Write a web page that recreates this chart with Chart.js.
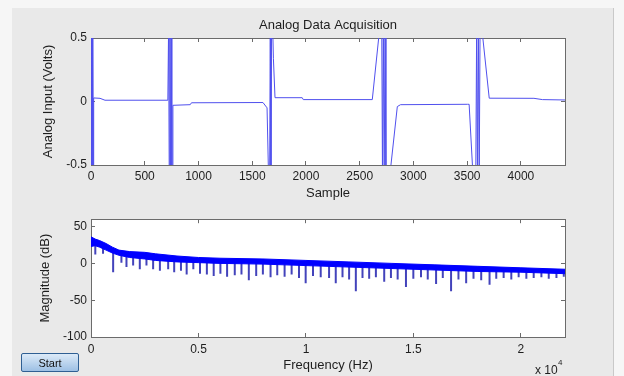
<!DOCTYPE html>
<html lang="en">
<head>
<meta charset="utf-8">
<title>Analog Data Acquisition</title>
<script src="https://cdn.jsdelivr.net/npm/chart.js@4.4.1/dist/chart.umd.min.js"></script>
<style>
    html, body { margin: 0; padding: 0; }
    body { width: 624px; height: 376px; position: relative; overflow: hidden; background: #f6f6f6;
           font-family: "Liberation Sans", Arial, sans-serif; }
    .panel { position: absolute; left: 12px; top: 8px; width: 601px; height: 368px; background: #e9e9e9;
             border-right: 1px solid #c9c9c9; }
    canvas { position: absolute; left: 0; }
    #graficoTiempo { top: 0; width: 624px; height: 204px; }
    #graficoEspectro { top: 204px; width: 624px; height: 172px; }
    .boton { position: absolute; left: 21px; top: 353px; width: 58px; height: 19px; box-sizing: border-box;
             -webkit-appearance: none; appearance: none; padding: 0; border: 1px solid #2f5f93; border-radius: 2px;
             background: linear-gradient(#dceaf8, #9dc0e4); font: 11px "Liberation Sans", Arial, sans-serif; color: #111; }
    .escala { position: absolute; left: 535px; top: 363px; font-size: 12px; line-height: 14px; color: #1e1e1e; white-space: nowrap; }
    .escala sup { position: absolute; left: 23px; top: -4px; font-size: 8px; line-height: 8px; }
</style>
</head>
<body>
<div class="panel"></div>
<canvas id="graficoTiempo" width="624" height="204"></canvas>
<canvas id="graficoEspectro" width="624" height="172"></canvas>
<button class="boton">Start</button>
<div class="escala">x 10<sup>4</sup></div>
<script>
(function() {
    'use strict';

    // Señal adquirida (muestra, voltios)
    var muestras = [0, 3, 6, 9, 12, 15, 18, 21, 25, 84, 130,
                    715, 722, 728, 734, 740, 746, 752, 758, 762, 923, 935, 1600,
                    1638, 1650, 1662, 1668, 1674, 1680, 1690, 1697, 1712, 1965, 1975,
                    2617, 2679, 2705, 2712, 2720, 2728, 2736, 2744, 2788, 2850, 2880,
                    3503, 3518, 3550, 3580, 3588, 3596, 3604, 3612, 3620, 3643, 3705, 4121, 4200, 4410];
    var voltios = [0.6, -0.6, 0.6, -0.6, 0.6, -0.6, 0.6, -0.6, 0.028, 0.025, 0.01,
                   0.01, 0.6, -0.6, 0.6, -0.6, 0.6, -0.6, -0.6, -0.03, -0.025, -0.01, -0.008,
                   -0.05, -0.52, -0.6, 0.6, -0.6, 0.6, 0.6, 0.34, 0.03, 0.03, 0.015,
                   0.015, 0.52, 0.6, -0.6, 0.6, -0.6, 0.6, -0.6, -0.52, -0.04, -0.025,
                   -0.022, -0.022, -0.52, -0.6, 0.6, -0.6, 0.6, -0.6, 0.6, 0.52, 0.026, 0.025, 0.015, 0.012];

    // Espectro: borde superior e inferior de la banda (Hz, dB)
    var frecuencias = [0, 200, 400, 700, 1000, 1300, 1800, 2500, 3000, 4000, 5000, 6000, 8000, 10000,
                       12000, 14000, 16000, 18000, 20000, 22050];
    var magnitudSup = [36, 33, 31, 27, 22, 18, 16, 15, 13, 10, 8, 7, 6, 4, 2, 0, -2, -4, -6, -8];
    var magnitudInf = [23, 24, 22, 18, 14, 11, 8, 6, 4, 2, 1, 0, -1, -3, -5, -7, -9, -11, -12, -14];

    // Valles del espectro (Hz, dB arriba, dB abajo)
    var valleFrec = [200, 560, 1030, 1415, 1650, 1960, 2270, 2580, 2890, 3205, 3590, 3870, 4185, 4450,
                     4760, 5070, 5390, 5708, 6020, 6331, 6688, 7000, 7342, 7685, 7996, 8353, 8664, 9006,
                     9333, 9675, 9986, 10328, 10686, 11075, 11386, 11700, 12007, 12320, 12630, 12940,
                     13253, 13640, 13953, 14265, 14652, 14995, 15352, 15665, 16053, 16365, 16750, 17094,
                     17452, 17794, 18152, 18540, 18852, 19196, 19552, 19894, 20252, 20594, 20952, 21294,
                     21652, 21994];
    var valleAlto = [28, 24, 18, 13, 12, 11, 10, 10, 9, 8, 8, 7, 7, 6, 6, 5, 5, 4, 4, 4, 4, 4, 4, 3, 3,
                     3, 3, 2, 2, 2, 1, 1, 1, 0, 0, -1, -1, -1, -2, -2, -2, -3, -3, -3, -4, -4, -5, -5, -5,
                     -6, -6, -6, -7, -7, -8, -8, -8, -9, -9, -9, -10, -10, -10, -11, -11, -11];
    var valleBajo = [12, 13, -12, 1, -5, -3, -8, -3, -8, -10, -8, -12, -10, -15, -8, -14, -15, -17, -14,
                     -18, -16, -15, -23, -17, -15, -19, -16, -18, -15, -20, -27, -17, -19, -20, -27, -19,
                     -22, -38, -20, -21, -19, -25, -20, -22, -32, -21, -19, -22, -28, -20, -38, -22, -27,
                     -21, -23, -29, -21, -20, -22, -19, -21, -20, -19, -21, -20, -18];

    // Marcas de los ejes
    var marcasMuestra = [0, 500, 1000, 1500, 2000, 2500, 3000, 3500, 4000];
    var marcasVoltios = [-0.5, 0, 0.5];
    var marcasFrec = [0, 5000, 10000, 15000, 20000];
    var etiquetasFrec = ['0', '0.5', '1', '1.5', '2'];
    var marcasDb = [-100, -50, 0, 50];

    Chart.defaults.font.family = "'Liberation Sans', Arial, sans-serif";
    Chart.defaults.color = '#1e1e1e';
    var colorEje = '#6b6b6b';

    // Fondo blanco solo dentro del área de trazado
    var fondoBlanco = {
        id: 'fondoBlanco',
        beforeDraw: function(chart) {
            var a = chart.chartArea;
            var ctx = chart.ctx;
            ctx.save();
            ctx.fillStyle = '#ffffff';
            ctx.fillRect(a.left, a.top, a.right - a.left, a.bottom - a.top);
            ctx.restore();
        }
    };

    function fijarMarcas(marcas) {
        return function(s) {
            s.ticks = marcas.map(function(v) { return { value: v }; });
        };
    }

    function ejeX(pos, min, max, marcas, alto, titulo, relleno, formato) {
        return {
            type: 'linear', position: pos, min: min, max: max,
            afterBuildTicks: fijarMarcas(marcas),
            afterFit: function(s) { s.height = alto; },
            border: { color: colorEje },
            grid: { drawOnChartArea: false, tickLength: -4, color: colorEje },
            ticks: { display: !!titulo, autoSkip: false, maxRotation: 0, padding: relleno || 0,
                     font: { size: 12 }, callback: formato },
            title: { display: !!titulo, text: titulo || '', font: { size: 13 }, padding: { top: 0, bottom: 3 } }
        };
    }

    function ejeY(pos, min, max, marcas, ancho, titulo, margen) {
        return {
            type: 'linear', position: pos, min: min, max: max,
            afterBuildTicks: fijarMarcas(marcas),
            afterFit: function(s) { s.width = ancho; },
            border: { color: colorEje },
            grid: { drawOnChartArea: false, tickLength: -4, color: colorEje },
            ticks: { display: !!titulo, autoSkip: false, padding: 8, font: { size: 12 } },
            title: { display: !!titulo, text: titulo || '', font: { size: 13 }, padding: { top: margen || 0, bottom: 0 } }
        };
    }

    var sinLeyenda = { legend: { display: false }, tooltip: { enabled: false } };

    // Gráfico superior: entrada analógica
    var puntosTiempo = muestras.map(function(m, i) { return { x: m, y: voltios[i] }; });

    new Chart(document.getElementById('graficoTiempo'), {
        type: 'line',
        data: {
            datasets: [{
                data: puntosTiempo,
                borderColor: '#5050ee',
                borderWidth: 1,
                pointRadius: 0,
                tension: 0
            }]
        },
        options: {
            responsive: false,
            animation: false,
            layout: { padding: 0 },
            scales: {
                x: ejeX('bottom', 0, 4410, marcasMuestra, 39, 'Sample', 8),
                x2: ejeX('top', 0, 4410, marcasMuestra, 4.4),
                y: ejeY('left', -0.5, 0.5, marcasVoltios, 91, 'Analog Input (Volts)', 41),
                y2: ejeY('right', -0.5, 0.5, marcasVoltios, 59)
            },
            plugins: Object.assign({
                title: {
                    display: true,
                    text: 'Analog Data Acquisition',
                    fullSize: false,
                    color: '#1e1e1e',
                    font: { size: 13, weight: 'normal' },
                    padding: { top: 18, bottom: 0 }
                }
            }, sinLeyenda)
        },
        plugins: [fondoBlanco]
    });

    // Gráfico inferior: espectro en dB
    var puntosInf = frecuencias.map(function(f, i) { return { x: f, y: magnitudInf[i] }; });
    var puntosSup = frecuencias.map(function(f, i) { return { x: f, y: magnitudSup[i] }; });
    var valles = [];
    valleFrec.forEach(function(f, i) {
        valles.push({ x: f, y: valleAlto[i] }, { x: f, y: valleBajo[i] }, { x: f, y: null });
    });

    new Chart(document.getElementById('graficoEspectro'), {
        type: 'line',
        data: {
            datasets: [{
                data: puntosInf,
                borderColor: '#0000ff',
                borderWidth: 1,
                pointRadius: 0,
                tension: 0,
                fill: false
            }, {
                data: puntosSup,
                borderColor: '#0000ff',
                backgroundColor: '#0000ff',
                borderWidth: 1,
                pointRadius: 0,
                tension: 0,
                fill: '-1'
            }, {
                data: valles,
                borderColor: 'rgba(20, 20, 170, 0.8)',
                borderWidth: 2,
                pointRadius: 0,
                spanGaps: false,
                fill: false
            }]
        },
        options: {
            responsive: false,
            animation: false,
            layout: { padding: 0 },
            scales: {
                x: ejeX('bottom', 0, 22050, marcasFrec, 39, 'Frequency (Hz)', 9, function(v, i) {
                    return etiquetasFrec[i];
                }),
                x2: ejeX('top', 0, 22050, marcasFrec, 9),
                y: ejeY('left', -100, 60, marcasDb, 91, 'Magnitude (dB)', 38),
                y2: ejeY('right', -100, 60, marcasDb, 59)
            },
            plugins: sinLeyenda
        },
        plugins: [fondoBlanco]
    });
})();
</script>
</body>
</html>
